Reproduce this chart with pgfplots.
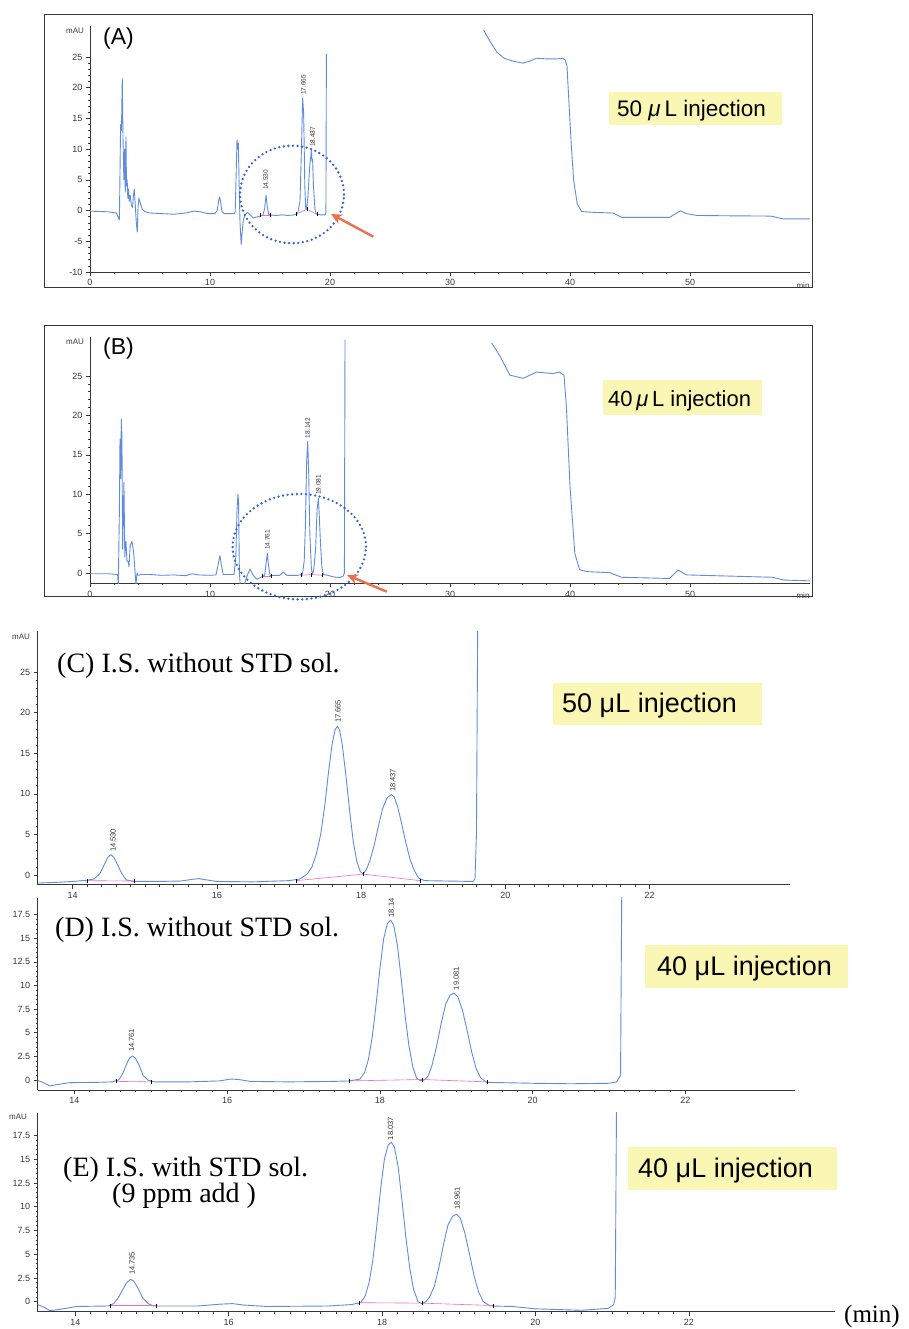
\documentclass[border=0pt]{standalone}
\usepackage{fontspec}
\setmainfont{Liberation Sans}
\newfontfamily\tnr{Liberation Serif}
\usepackage{pgfplots}
\pgfplotsset{compat=1.18}
\usetikzlibrary{arrows.meta}
\definecolor{trace}{RGB}{95,140,225}
\definecolor{pinkbl}{RGB}{232,110,200}
\definecolor{ellblue}{RGB}{50,100,215}
\definecolor{arrowred}{RGB}{240,110,75}
\definecolor{hl}{RGB}{250,246,180}
\definecolor{axgray}{RGB}{55,55,55}
\pgfplotsset{
 chrom/.style={
   scale only axis,
   axis x line=bottom, axis y line=left,
   axis line style={-, axgray, line width=0.7pt},
   tick align=outside,
   major tick length=4pt, minor tick length=2pt,
   tick style={axgray, line width=0.5pt},
   tick label style={font=\fontsize{9}{9}\selectfont, text=axgray},
   /pgf/number format/assume math mode=true,
   anchor=south west,
 },
 tr/.style={trace, line width=0.9pt, line join=round},
 bl/.style={pinkbl, line width=0.6pt},
 mk/.style={only marks, mark=|, mark size=2pt, black, mark options={line width=0.4pt}},
}
\tikzset{
 pk/.style={rotate=90, anchor=west, inner sep=0pt, font=\fontsize{6.5}{6.5}\selectfont, text=black!80},
 pkl/.style={pk, font=\fontsize{7.5}{7.5}\selectfont},
}
\begin{document}
\begin{tikzpicture}[x=1pt,y=1pt]
\useasboundingbox (0,0) rectangle (908,1329);
\draw[axgray, line width=0.8pt] (44,1042) rectangle (812,1315);
\draw[axgray, line width=0.8pt] (44,733) rectangle (812,1004);

% ---------------- A ----------------
\begin{axis}[chrom, at={(90pt,1057pt)}, width=720pt, height=245.7pt,
  xmin=0, xmax=60, ymin=-10, ymax=30,
  xtick={0,10,...,50}, ytick={-10,-5,...,25},
  minor x tick num=4, minor y tick num=4]
\addplot[tr] coordinates {
(0,-0.1)(1.5,-0.2)(2.2,-0.4)(2.45,-1.5)(2.55,14)(2.62,13)(2.69,21.5)(2.75,12)(2.82,5)(2.88,10)(2.94,3)(3.0,12)(3.04,4)(3.1,5)(3.15,2)(3.2,3.5)(3.27,1.5)(3.35,2.5)(3.45,0.8)(3.55,0.5)(3.62,2.5)(3.69,3.5)(3.77,1)(3.86,-2)(3.94,-3.5)(4.0,0.5)(4.08,2)(4.2,1.2)(4.35,0.2)(4.6,-0.2)(5.0,-0.4)(6.0,-0.5)(7.0,-0.6)(7.5,-0.5)(8.0,-0.4)(8.6,-0.1)(9.2,-0.2)(9.8,-0.5)(10.4,-0.5)(10.6,0.0)(10.72,1.6)(10.8,2.2)(10.88,1.5)(11.0,-0.2)(11.2,-0.5)(12.0,-0.5)(12.1,-0.3)(12.18,6)(12.25,11.5)(12.3,10)(12.36,11)(12.42,5)(12.5,-2)(12.6,-5.5)(12.68,-3.5)(12.78,-1.5)(12.9,-0.8)(13.1,-0.3)(13.3,-0.6)(13.6,-1.2)(14.0,-1.0)(14.4,-0.8)(14.55,0.3)(14.67,2.5)(14.78,0.5)(14.9,-0.7)(15.5,-0.8)(16.0,-0.7)(16.5,-0.8)(17.0,-0.7)(17.3,-0.5)(17.5,1.5)(17.62,10)(17.72,18.3)(17.8,16)(17.85,10.5)(17.9,4)(17.98,0.3)(18.05,0.2)(18.15,2)(18.3,7)(18.45,9.8)(18.5,8)(18.55,8.3)(18.62,4)(18.75,0.2)(18.85,-0.5)(19.2,-0.7)(19.6,-0.7)(19.66,-0.3)(19.7,25.5)};
\addplot[tr] coordinates {
(32.8,29.4)(33.2,28.0)(33.9,25.8)(34.5,24.8)(35.3,24.3)(36.1,24.0)(36.6,24.3)(37.2,24.8)(38.0,24.7)(39.0,24.7)(39.4,24.8)(39.6,24.5)(39.75,23.5)(39.9,18)(40.1,10.9)(40.3,5)(40.6,1.1)(40.97,-0.16)(42,-0.3)(43.6,-0.4)(44.3,-1.1)(48.3,-1.1)(48.8,-0.5)(49.2,-0.05)(49.7,-0.5)(50.6,-0.8)(53,-0.85)(56.7,-0.9)(57.8,-1.35)(60,-1.35)};
\addplot[bl] coordinates {(14.17,-0.8)(15.0,-0.8)};
\addplot[bl] coordinates {(17.17,-0.6)(18.06,0.2)(18.9,-0.6)};
\addplot[mk] coordinates {(14.17,-0.8)(15.0,-0.8)(17.17,-0.6)(18.06,0.2)(18.9,-0.6)};
\node[pk] at (axis cs:14.64,3.35) {14.530};
\node[pk] at (axis cs:17.78,18.8) {17.665};
\node[pk] at (axis cs:18.56,10.35) {18.437};
\end{axis}

% ---------------- B ----------------
\begin{axis}[chrom, at={(90pt,745.8pt)}, width=720pt, height=246.6pt,
  xmin=0, xmax=60, ymin=-1.3, ymax=30,
  xtick={0,10,...,50}, ytick={0,5,...,25},
  minor x tick num=4, minor y tick num=4]
\addplot[tr] coordinates {
(0,-0.1)(1.5,-0.1)(2.3,-0.2)(2.36,-1.5)(2.45,8)(2.5,17)(2.56,12)(2.61,19.5)(2.66,17.5)(2.72,3)(2.83,11.5)(2.9,2)(3.0,4)(3.08,1.5)(3.17,1.5)(3.25,0.8)(3.35,3.5)(3.5,4)(3.6,3)(3.67,2)(3.76,0)(3.83,-1.5)(3.92,0)(4.0,-0.3)(4.3,-0.2)(5,-0.2)(6,-0.3)(7,-0.25)(8,-0.35)(8.5,-0.1)(9,-0.25)(10,-0.3)(10.5,-0.25)(10.7,1.2)(10.83,2.2)(10.95,1)(11.1,-0.2)(12.0,-0.2)(12.15,2)(12.25,8)(12.33,10)(12.38,9)(12.45,0)(12.52,-1.5)(12.85,-1.5)(13.06,-0.5)(13.33,0.5)(13.6,-0.3)(13.9,-0.8)(14.3,-0.5)(14.55,-0.3)(14.7,1.5)(14.78,2.5)(14.87,1)(15.0,-0.3)(15.8,-0.3)(16.1,0.1)(16.4,-0.3)(17.3,-0.3)(17.7,-0.2)(17.85,1.5)(17.95,6)(18.05,14)(18.14,16.7)(18.22,13)(18.32,5)(18.45,0.5)(18.55,-0.2)(18.65,0.5)(18.8,3)(18.92,8)(19.03,9.5)(19.1,7.5)(19.2,4)(19.32,0.8)(19.44,-0.2)(19.8,-0.3)(20.3,-0.5)(20.8,-0.6)(21.1,-0.4)(21.2,0)(21.25,29.6)};
\addplot[tr] coordinates {
(33.47,29.2)(34.17,27.5)(35.0,25.1)(36.1,24.7)(37.2,25.5)(38.6,25.3)(39.1,25.5)(39.5,25.1)(39.7,21.1)(40.0,11.0)(40.4,2.5)(40.8,0.4)(41.4,0.17)(43.3,0.04)(44.3,-0.55)(48.3,-0.7)(49.0,0.38)(49.7,-0.25)(56.9,-0.55)(57.8,-0.9)(60,-1.0)};
\addplot[bl] coordinates {(14.39,-0.4)(15.14,-0.4)};
\addplot[bl] coordinates {(17.58,-0.3)(18.47,-0.2)(19.39,-0.3)};
\addplot[mk] coordinates {(14.39,-0.4)(15.14,-0.4)(17.58,-0.3)(18.47,-0.2)(19.39,-0.3)};
\node[pk] at (axis cs:14.78,2.9) {14.761};
\node[pk] at (axis cs:18.14,17.1) {18.142};
\node[pk] at (axis cs:19.03,9.9) {19.081};
\end{axis}

% ---------------- C ----------------
\begin{axis}[chrom, at={(37.7pt,444.3pt)}, width=752.4pt, height=253.3pt,
  xmin=13.515, xmax=23.95, ymin=-1.2, ymax=30,
  xtick={14,16,...,22}, ytick={0,5,...,25},
  minor x tick num=9, minor y tick num=4]
\addplot[tr] coordinates {
(13.515,-1.0)(13.8,-0.9)(14.0,-0.8)(14.2,-0.65)(14.3,-0.5)(14.38,0.2)(14.44,1.3)(14.49,2.2)(14.53,2.5)(14.57,2.2)(14.62,1.3)(14.68,0.2)(14.74,-0.6)(14.85,-0.8)(15.2,-0.8)(15.5,-0.75)(15.65,-0.55)(15.75,-0.45)(15.85,-0.6)(16.0,-0.8)(16.5,-0.85)(17.0,-0.7)(17.15,-0.5)(17.25,0.1)(17.32,1.0)(17.38,2.6)(17.44,5.0)(17.50,8.8)(17.55,12.8)(17.60,16.2)(17.64,17.9)(17.67,18.3)(17.70,17.9)(17.74,16.0)(17.79,12.2)(17.84,8.0)(17.89,4.2)(17.94,1.7)(17.99,0.4)(18.03,0.15)(18.07,0.6)(18.12,1.7)(18.18,3.6)(18.24,6.0)(18.30,8.2)(18.36,9.5)(18.42,9.9)(18.46,9.6)(18.51,8.3)(18.56,6.4)(18.62,4.0)(18.68,1.9)(18.74,0.5)(18.80,-0.4)(18.88,-0.7)(19.2,-0.75)(19.55,-0.8)(19.58,-0.5)(19.60,5)(19.62,35)};
\addplot[bl] coordinates {(14.2,-0.7)(14.85,-0.75)};
\addplot[bl] coordinates {(17.1,-0.7)(18.03,0.1)(18.82,-0.7)};
\addplot[mk] coordinates {(14.2,-0.7)(14.85,-0.75)(17.1,-0.7)(18.03,0.1)(18.82,-0.7)};
\node[pkl] at (axis cs:14.56,2.83) {14.530};
\node[pkl] at (axis cs:17.68,18.7) {17.665};
\node[pkl] at (axis cs:18.44,10.2) {18.437};
\end{axis}

% ---------------- D ----------------
\begin{axis}[chrom, at={(37.7pt,239pt)}, width=757pt, height=192.4pt,
  xmin=13.52, xmax=23.43, ymin=-1.06, ymax=19.3,
  xtick={14,16,...,22}, ytick={0,2.5,...,17.5},
  minor x tick num=9, minor y tick num=4]
\addplot[tr] coordinates {
(13.52,-0.05)(13.6,-0.3)(13.68,-0.63)(13.8,-0.45)(13.94,-0.28)(14.3,-0.25)(14.5,-0.2)(14.58,0.0)(14.63,0.6)(14.68,1.6)(14.72,2.3)(14.76,2.55)(14.80,2.3)(14.85,1.5)(14.90,0.5)(14.96,0.0)(15.05,-0.2)(15.5,-0.2)(15.9,-0.1)(16.05,0.1)(16.15,0.05)(16.3,-0.15)(16.8,-0.2)(17.4,-0.15)(17.6,-0.1)(17.74,0.1)(17.80,0.8)(17.85,2.2)(17.90,4.6)(17.95,8.0)(18.00,11.8)(18.05,15.0)(18.10,16.6)(18.14,16.9)(18.18,16.4)(18.23,14.2)(18.28,10.6)(18.33,6.8)(18.38,3.6)(18.43,1.4)(18.48,0.2)(18.53,-0.1)(18.58,0.0)(18.63,0.4)(18.68,1.5)(18.74,3.5)(18.80,5.9)(18.86,8.0)(18.92,9.0)(18.97,9.2)(19.02,8.8)(19.08,7.4)(19.14,5.3)(19.20,3.0)(19.26,1.2)(19.32,0.2)(19.40,-0.25)(19.7,-0.3)(20.0,-0.35)(20.5,-0.4)(21.0,-0.35)(21.1,-0.2)(21.15,0.5)(21.17,25)};
\addplot[bl] coordinates {(14.55,-0.15)(15.0,-0.2)};
\addplot[bl] coordinates {(17.6,-0.1)(18.55,0.05)(19.4,-0.2)};
\addplot[mk] coordinates {(14.55,-0.15)(15.0,-0.2)(17.6,-0.1)(18.55,0.05)(19.4,-0.2)};
\node[pkl] at (axis cs:14.75,2.96) {14.761};
\node[pkl] at (axis cs:18.15,17.2) {18.14};
\node[pkl] at (axis cs:19.0,9.5) {19.081};
\end{axis}

% ---------------- E ----------------
\begin{axis}[chrom, at={(37.7pt,17.3pt)}, width=796.9pt, height=199pt,
  xmin=13.51, xmax=23.9, ymin=-1.05, ymax=19.9,
  xtick={14,16,...,22}, ytick={0,2.5,...,17.5},
  minor x tick num=9, minor y tick num=4]
\addplot[tr] coordinates {
(13.51,-0.3)(13.6,-0.6)(13.67,-0.95)(13.8,-0.8)(14.02,-0.5)(14.43,-0.45)(14.5,-0.2)(14.56,0.4)(14.62,1.3)(14.67,2.0)(14.72,2.35)(14.76,2.2)(14.82,1.4)(14.88,0.4)(14.95,-0.2)(15.02,-0.45)(15.6,-0.45)(15.9,-0.25)(16.05,-0.2)(16.2,-0.35)(16.5,-0.5)(17.3,-0.45)(17.6,-0.3)(17.72,-0.1)(17.78,0.6)(17.83,2.0)(17.88,4.4)(17.93,7.9)(17.98,11.8)(18.03,15.0)(18.08,16.5)(18.12,16.8)(18.16,16.3)(18.21,14.2)(18.26,10.6)(18.31,6.8)(18.36,3.6)(18.41,1.3)(18.47,0.0)(18.52,-0.2)(18.57,0.0)(18.62,0.5)(18.68,1.6)(18.74,3.6)(18.80,6.0)(18.86,8.1)(18.92,9.0)(18.97,9.2)(19.02,8.8)(19.08,7.2)(19.14,5.0)(19.20,2.7)(19.26,1.0)(19.32,0.0)(19.41,-0.45)(19.7,-0.5)(20.0,-0.75)(20.6,-0.9)(20.95,-0.7)(21.02,-0.3)(21.04,0.5)(21.06,25)};
\addplot[bl] coordinates {(14.45,-0.4)(15.05,-0.4)};
\addplot[bl] coordinates {(17.7,-0.1)(18.52,-0.15)(19.45,-0.4)};
\addplot[mk] coordinates {(14.45,-0.4)(15.05,-0.4)(17.7,-0.1)(18.52,-0.15)(19.45,-0.4)};
\node[pkl] at (axis cs:14.74,2.8) {14.735};
\node[pkl] at (axis cs:18.11,17.0) {18.037};
\node[pkl] at (axis cs:18.98,9.65) {18.961};
\end{axis}

% ---------- annotations ----------
\draw[ellblue, line width=2.6pt, line cap=round, dash pattern=on 0pt off 4.6pt] (292,1134.5) ellipse [x radius=52, y radius=48.8];
\draw[ellblue, line width=2.6pt, line cap=round, dash pattern=on 0pt off 4.6pt] (299.3,782.3) ellipse [x radius=66.7, y radius=52.7];
\draw[arrowred, line width=2.4pt, -{Stealth[length=11pt,width=10pt]}] (373.3,1092.3) -- (331,1115);
\draw[arrowred, line width=2.4pt, -{Stealth[length=11pt,width=10pt]}] (386.7,737.3) -- (347,754);

% panel letters and units
\node[anchor=base west, inner sep=0, font=\fontsize{23}{23}\selectfont] at (103,1284) {(A)};
\node[anchor=base west, inner sep=0, font=\fontsize{23}{23}\selectfont] at (103,974) {(B)};
\node[font=\fontsize{8}{8}\selectfont, text=axgray] at (75,1298) {mAU};
\node[font=\fontsize{8}{8}\selectfont, text=axgray] at (75,987) {mAU};
\node[font=\fontsize{8}{8}\selectfont, text=axgray] at (21,692) {mAU};
\node[font=\fontsize{8}{8}\selectfont, text=axgray] at (18,212) {mAU};
\node[font=\fontsize{8}{8}\selectfont, text=axgray] at (803,1043) {min};
\node[font=\fontsize{8}{8}\selectfont, text=axgray] at (803,733) {min};
\node[anchor=west, inner sep=0, font=\tnr\fontsize{25}{25}\selectfont] at (844,13) {(min)};

% injection boxes
\fill[hl] (609,1204) rectangle (782,1237);
\node[anchor=base west, inner sep=0, font=\fontsize{22.5}{22.5}\selectfont] at (617,1212) {50 \textit{μ}\,L injection};
\fill[hl] (603,914) rectangle (762,949);
\node[anchor=base west, inner sep=0, font=\fontsize{22}{22}\selectfont] at (608,922.3) {40\,\textit{μ}\,L injection};
\fill[hl] (553,604) rectangle (762,646);
\node[anchor=base west, inner sep=0, font=\fontsize{27}{27}\selectfont] at (562,616) {50 μL injection};
\fill[hl] (645,341) rectangle (848,384);
\node[anchor=base west, inner sep=0, font=\fontsize{27}{27}\selectfont] at (657,353) {40 μL injection};
\fill[hl] (628,139) rectangle (837,182);
\node[anchor=base west, inner sep=0, font=\fontsize{27}{27}\selectfont] at (638,151) {40 μL injection};

% titles
\node[anchor=base west, inner sep=0, font=\tnr\fontsize{28}{28}\selectfont] at (57,656) {(C) I.S. without STD sol.};
\node[anchor=base west, inner sep=0, font=\tnr\fontsize{28}{28}\selectfont] at (55,392.3) {(D) I.S. without STD sol.};
\node[anchor=base west, inner sep=0, font=\tnr\fontsize{28}{28}\selectfont] at (63,152.3) {(E) I.S. with STD sol.};
\node[anchor=base west, inner sep=0, font=\tnr\fontsize{28}{28}\selectfont] at (112,126) {(9 ppm add )};
\end{tikzpicture}
\end{document}
